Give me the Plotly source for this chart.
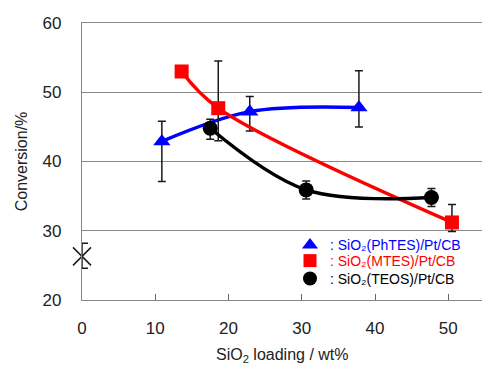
import plotly.graph_objects as go

# PhTES series
phtes_x = [10.9, 22.9, 37.8]
phtes_y = [42.9, 47.2, 47.8]
phtes_err_plus = [2.9, 2.2, 5.3]
phtes_err_minus = [5.8, 2.8, 2.8]

# MTES series
mtes_x = [13.6, 18.6, 50.5]
mtes_y = [53.0, 47.7, 31.2]
mtes_err_plus = [0.0, 6.8, 2.6]
mtes_err_minus = [0.0, 4.7, 1.3]

# TEOS series
teos_x = [17.5, 30.6, 47.7]
teos_y = [44.8, 35.9, 34.8]
teos_err_plus = [1.3, 1.3, 1.3]
teos_err_minus = [1.6, 1.3, 1.3]

# reference (no SiO2)
ref_x = [0]
ref_y = [26.3]
ref_err_plus = [1.9]
ref_err_minus = [1.7]

x_ticks = [0, 10, 20, 30, 40, 50]
y_ticks = [20, 30, 40, 50, 60]

FONT = "Arial, Liberation Sans, sans-serif"
ERR = dict(color="#1a1a1a", thickness=1.5, width=4)

fig = go.Figure()

series = [
    (phtes_x, phtes_y, phtes_err_plus, phtes_err_minus, "#0000ff", "triangle-up", 15,
     '<span style="color:#0000ff">: SiO₂(PhTES)/Pt/CB</span>', "legend", 0.255),
    (mtes_x, mtes_y, mtes_err_plus, mtes_err_minus, "#ff0000", "square", 14,
     '<span style="color:#ff0000">: SiO₂(MTES)/Pt/CB</span>', "legend2", 0.1985),
    (teos_x, teos_y, teos_err_plus, teos_err_minus, "#000000", "circle", 15,
     '<span style="color:#000000">: SiO₂(TEOS)/Pt/CB</span>', "legend3", 0.134),
]

for xs, ys, ep, em, col, sym, size, name, lg, ly in series:
    fig.add_trace(go.Scatter(
        x=xs, y=ys, mode="lines+markers",
        line=dict(color=col, width=3.5, shape="spline", smoothing=1.0),
        marker=dict(color=col, symbol=sym, size=size),
        error_y=dict(type="data", symmetric=False, array=ep, arrayminus=em, **ERR),
        showlegend=False, cliponaxis=False,
    ))

for xs, ys, ep, em, col, sym, size, name, lg, ly in series:
    fig.add_trace(go.Scatter(
        x=[None], y=[None], mode="markers",
        marker=dict(color=col, symbol=sym, size=size - 1),
        name=name, showlegend=True, legend=lg,
    ))

fig.add_trace(go.Scatter(
    x=ref_x, y=ref_y, mode="markers",
    marker=dict(symbol="x-thin-open", size=18, color="#1a1a1a",
                line=dict(color="#1a1a1a", width=1.5)),
    error_y=dict(type="data", symmetric=False, array=ref_err_plus, arrayminus=ref_err_minus,
                 color="#1a1a1a", thickness=1.5, width=6),
    showlegend=False, cliponaxis=False,
))

legend_layout = {}
for xs, ys, ep, em, col, sym, size, name, lg, ly in series:
    legend_layout[lg] = dict(
        x=0.52, y=ly, xanchor="left", yanchor="top",
        bgcolor="rgba(0,0,0,0)", font=dict(size=14, family=FONT),
        itemwidth=30,
    )

fig.update_layout(
    width=482, height=367,
    margin=dict(l=82, r=0, t=23, b=67, autoexpand=False),
    paper_bgcolor="white", plot_bgcolor="white",
    font=dict(family=FONT, color="#222222"),
    **legend_layout,
)

fig.add_annotation(
    text="SiO<sub>2</sub> loading / wt%", xref="paper", yref="paper",
    x=0.5, y=-0.2, xanchor="center", yanchor="middle", showarrow=False,
    font=dict(size=16, family=FONT, color="#222222"),
)

fig.update_xaxes(
    range=[0, 54.6], tickvals=x_ticks, ticks="inside", ticklen=6, tickcolor="#666666",
    showline=True, mirror=True, linecolor="#888888", linewidth=1.3, showgrid=False,
    zeroline=False, tickfont=dict(size=17), ticklabelstandoff=12, automargin=False,
)
fig.update_yaxes(
    range=[20, 60], tickvals=y_ticks, ticks="", showline=True, linecolor="#888888",
    linewidth=1.3, showgrid=True, gridcolor="#888888", gridwidth=1.3, zeroline=False,
    tickfont=dict(size=17), ticklabelstandoff=16, automargin=True,
    title=dict(text="Conversion/%", font=dict(size=16), standoff=10),
)

fig.write_html(
    "out.html",
    config={"displayModeBar": False},
    post_script="document.body.style.margin='0px';document.body.style.overflow='hidden';",
)
